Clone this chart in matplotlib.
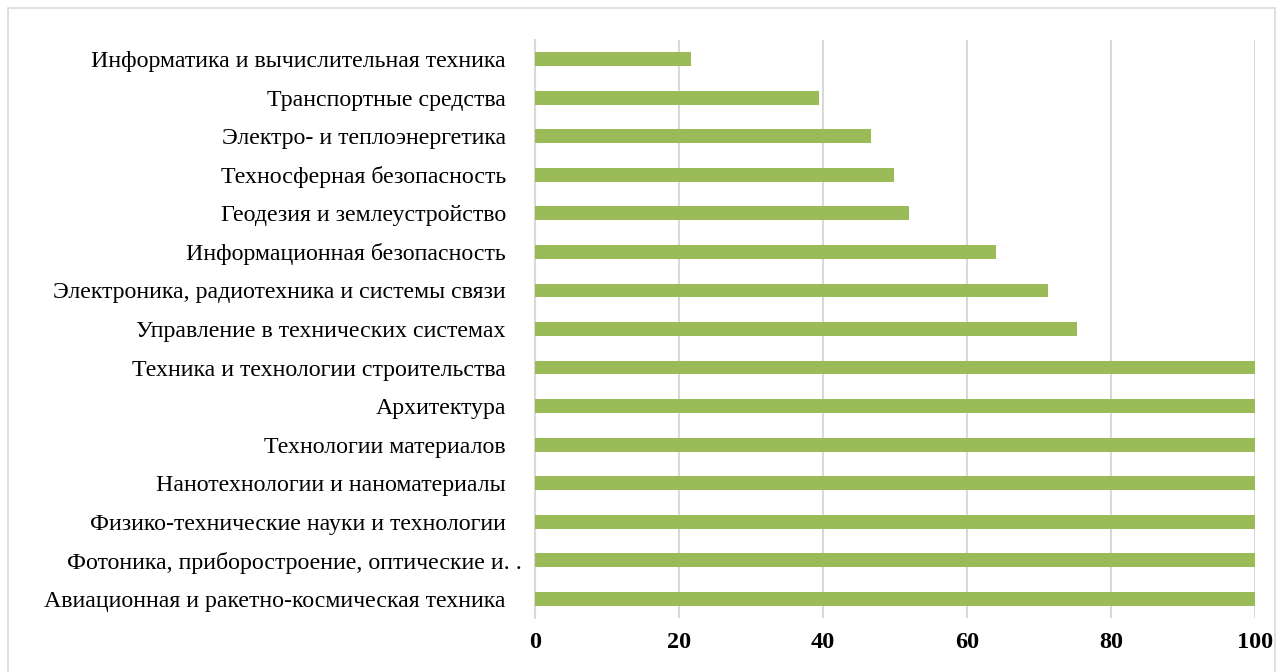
import matplotlib
matplotlib.use("Agg")
import matplotlib.pyplot as plt
from matplotlib.patches import Rectangle
from matplotlib.transforms import ScaledTranslation

categories = [
    "Информатика и вычислительная техника",
    "Транспортные средства",
    "Электро- и теплоэнергетика",
    "Техносферная безопасность",
    "Геодезия и землеустройство",
    "Информационная безопасность",
    "Электроника, радиотехника и системы связи",
    "Управление в технических системах",
    "Техника и технологии строительства",
    "Архитектура",
    "Технологии материалов",
    "Нанотехнологии и наноматериалы",
    "Физико-технические науки и технологии",
    "Фотоника, приборостроение, оптические и. .",
    "Авиационная и ракетно-космическая техника",
]
values = [21.7, 39.5, 46.6, 49.8, 52.0, 64.0, 71.2, 75.3,
          100, 100, 100, 100, 100, 100, 100]
xticks = [0, 20, 40, 60, 80, 100]

plt.rcParams['font.family'] = ['Liberation Serif', 'DejaVu Serif']

fig = plt.figure(figsize=(12.83, 6.72), dpi=100)
ax = fig.add_axes([535/1283, 1 - 618/672, 720/1283, 578/672])

ypos = list(range(len(categories)))
ax.barh(ypos, values, height=0.36, color="#9BBB59", zorder=3)
ax.set_ylim(len(categories) - 0.5, -0.5)
ax.set_xlim(0, 100)
ax.set_yticks(ypos)
ax.set_yticklabels(categories, fontsize=17.2)
ax.set_xticks(xticks)
ax.set_xticklabels([str(t) for t in xticks], fontsize=17.5, fontweight="bold")
ax.tick_params(axis='y', length=0, pad=21)
ax.tick_params(axis='x', length=0, pad=10)
ax.grid(axis='x', color="#D9D9D9", linewidth=1.5, zorder=0)
for s in ["top", "right", "bottom"]:
    ax.spines[s].set_visible(False)
ax.spines["left"].set_color("#D9D9D9")
ax.spines["left"].set_linewidth(1.5)

# the truncated label sits closer to the axis in the original
lbl = ax.get_yticklabels()[13]
lbl.set_transform(lbl.get_transform() + ScaledTranslation(16/100, 0, fig.dpi_scale_trans))

fig.patches.append(Rectangle((8/1283, -0.1), 1267/1283, 1.1 - 8/672,
                             transform=fig.transFigure, fill=False,
                             edgecolor="#D9D9D9", linewidth=1.2))

fig.savefig("out.png", dpi=100)
